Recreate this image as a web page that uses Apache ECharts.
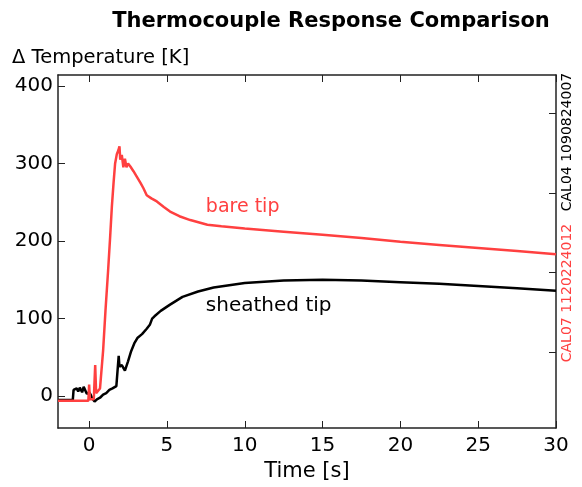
<!DOCTYPE html>
<html>
<head>
<meta charset="utf-8">
<script src="https://cdn.jsdelivr.net/npm/echarts@6/dist/echarts.min.js"></script>
<style>html,body{margin:0;padding:0;background:#fff;}#c{width:582px;height:487px;}</style>
</head>
<body>
<div id="c"></div>
<script>
// ---- data ----
var xTicks = [0, 5, 10, 15, 20, 25, 30];
var yTicks = [0, 100, 200, 300, 400];
var rightTicks = [57, 160, 262, 365];

var bareTime = [-2, -0.05, 0.0, 0.05, 0.3, 0.39, 0.45, 0.55, 0.7, 0.9, 1.05, 1.22, 1.35, 1.46, 1.57, 1.67, 1.78, 1.88, 1.95, 2.0, 2.1, 2.2, 2.3, 2.4, 2.5, 2.65, 2.85, 3.06, 3.3, 3.49, 3.7, 4.0, 4.35, 4.8, 5.2, 5.8, 6.5, 7.6, 8.5, 10, 12.5, 15, 17.5, 20, 22.5, 25, 27.5, 30];
var bareTemp = [-6, -6, 15, -4, -4, 40, 4, 6, 10, 59, 110, 162, 205, 244, 275, 300, 312, 317, 322, 305, 311, 295, 306, 295, 300, 296, 290, 283, 275, 268, 259, 255, 251, 244, 238, 232, 227, 221, 219, 216, 212, 208, 204, 199, 195, 191, 187, 183];

var sheathTime = [-2, -1.05, -1.0, -0.8, -0.7, -0.6, -0.45, -0.35, -0.25, -0.15, 0.0, 0.1, 0.2, 0.35, 0.5, 0.7, 0.9, 1.1, 1.3, 1.5, 1.75, 1.85, 1.9, 1.95, 2.1, 2.3, 2.5, 2.7, 2.9, 3.1, 3.4, 3.7, 3.9, 4.05, 4.2, 4.6, 5.2, 6.0, 7.0, 8.0, 10, 12.5, 15, 17.5, 20, 22.5, 25, 27.5, 30];
var sheathTemp = [-5, -5, 8, 10, 6, 11, 5, 12, 14, 3, 5, 2, -3, -7, -4, -2, 2, 4, 8, 10, 13, 15, 52, 38, 40, 33, 45, 58, 68, 75, 80, 87, 92, 100, 103, 110, 118, 128, 135, 140, 146, 149, 150, 149, 147, 145, 142, 139, 136];

var labelBare = [7.5, 244];
var labelSheath = [7.5, 117];

function pairs(xs, ys) { return xs.map(function (x, i) { return [x, ys[i]]; }); }

var FONT = 'DejaVu Sans';
var chart = echarts.init(document.getElementById('c'));
var axisCommon = {
  axisLine: { show: true, onZero: false, lineStyle: { color: '#222', width: 1.5 } },
  splitLine: { show: false }
};
chart.setOption({
  animation: false,
  backgroundColor: '#fff',
  title: {
    text: 'Thermocouple Response Comparison',
    left: 326, top: 6, textAlign: 'center',
    textStyle: { fontFamily: FONT, fontWeight: 'bold', fontSize: 21, color: '#000' }
  },
  grid: { left: 58, right: 26, top: 75, bottom: 59, containLabel: false },
  xAxis: [
    Object.assign({
      type: 'value', min: -2, max: 30, position: 'bottom',
      name: 'Time [s]', nameLocation: 'middle', nameGap: 31,
      nameTextStyle: { fontFamily: FONT, fontSize: 21, color: '#000' },
      axisTick: { show: true, inside: true, length: 7, customValues: xTicks, lineStyle: { color: '#222' } },
      axisLabel: { customValues: xTicks, fontFamily: FONT, fontSize: 20, color: '#000', margin: 8 }
    }, axisCommon),
    Object.assign({
      type: 'value', min: -2, max: 30, position: 'top',
      axisTick: { show: true, inside: true, length: 7, customValues: xTicks, lineStyle: { color: '#222' } },
      axisLabel: { show: false }
    }, axisCommon)
  ],
  yAxis: [
    Object.assign({
      type: 'value', min: -41, max: 414, position: 'left',
      axisTick: { show: true, inside: true, length: 7, customValues: yTicks, lineStyle: { color: '#222' } },
      axisLabel: { customValues: yTicks, fontFamily: FONT, fontSize: 20, color: '#000', margin: 5 }
    }, axisCommon),
    Object.assign({
      type: 'value', min: -41, max: 414, position: 'right',
      axisTick: { show: true, inside: true, length: 7, customValues: rightTicks, lineStyle: { color: '#222' } },
      axisLabel: { show: false }
    }, axisCommon)
  ],
  series: [
    {
      name: 'bare tip', type: 'line', xAxisIndex: 0, yAxisIndex: 0,
      data: pairs(bareTime, bareTemp), showSymbol: false, symbol: 'none',
      lineStyle: { color: '#ff4040', width: 2.5 }, z: 3
    },
    {
      name: 'sheathed tip', type: 'line', xAxisIndex: 0, yAxisIndex: 0,
      data: pairs(sheathTime, sheathTemp), showSymbol: false, symbol: 'none',
      lineStyle: { color: '#000', width: 2.5 }, z: 2
    }
  ]
});

var pB = chart.convertToPixel({ gridIndex: 0 }, labelBare);
var pS = chart.convertToPixel({ gridIndex: 0 }, labelSheath);
chart.setOption({
  graphic: [
    { type: 'text', left: 12, top: 48, style: { text: 'Δ Temperature [K]', fill: '#000', font: '19.5px "DejaVu Sans"' } },
    { type: 'text', x: pB[0], y: pB[1], style: { text: 'bare tip', fill: '#ff4040', font: '19px "DejaVu Sans"', verticalAlign: 'middle' } },
    { type: 'text', x: pS[0], y: pS[1], style: { text: 'sheathed tip', fill: '#000', font: '20px "DejaVu Sans"', verticalAlign: 'middle' } },
    { type: 'text', x: 567, y: 142, rotation: Math.PI / 2, style: { text: 'CAL04 1090824007', fill: '#000', font: '14px "DejaVu Sans"', align: 'center', verticalAlign: 'middle' } },
    { type: 'text', x: 567, y: 293, rotation: Math.PI / 2, style: { text: 'CAL07 1120224012', fill: '#ff4040', font: '14px "DejaVu Sans"', align: 'center', verticalAlign: 'middle' } }
  ]
});
</script>
</body>
</html>
